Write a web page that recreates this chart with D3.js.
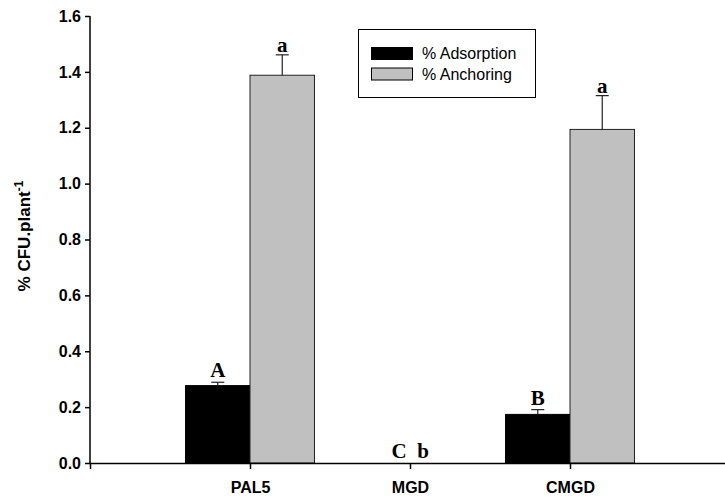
<!DOCTYPE html>
<html><head><meta charset="utf-8">
<script src="https://cdn.jsdelivr.net/npm/d3@7"></script>
<style>body{margin:0;background:#fff}svg{display:block}</style>
</head><body>
<script>
const categories = ["PAL5", "MGD", "CMGD"];
const seriesNames = ["% Adsorption", "% Anchoring"];
const adsorption = [0.277, 0, 0.174];
const adsorptionErr = [0.012, 0, 0.017];
const anchoring = [1.388, 0, 1.194];
const anchoringErr = [0.073, 0, 0.121];
const adsLetters = ["A", "C", "B"];
const ancLetters = ["a", "b", "a"];
const yTicks = [0, 0.2, 0.4, 0.6, 0.8, 1.0, 1.2, 1.4, 1.6];

const W = 725, H = 498;
const svg = d3.select("body").append("svg").attr("width", W).attr("height", H);
const x = d3.scaleLinear().domain([0, 4]).range([90, 730]);
const y = d3.scaleLinear().domain([0, 1.6]).range([463, 16]);
const barW = x(1) - x(0.597);
const colors = ["#000000", "#c0c0c0"];

const g = svg.append("g");
// bars
categories.forEach((c, i) => {
  const cx = x(i + 1);
  const vals = [adsorption[i], anchoring[i]];
  const errs = [adsorptionErr[i], anchoringErr[i]];
  vals.forEach((v, s) => {
    const x0 = s === 0 ? cx - barW : cx;
    if (v > 0) {
      g.append("rect").attr("x", x0).attr("y", y(v)).attr("width", barW).attr("height", y(0) - y(v))
        .attr("fill", colors[s]).attr("stroke", s === 0 ? "#000" : "#222").attr("stroke-width", 1);
      const mx = x0 + barW / 2;
      g.append("line").attr("x1", mx).attr("x2", mx).attr("y1", y(v)).attr("y2", y(v + errs[s]))
        .attr("stroke", "#222").attr("stroke-width", 1.2);
      g.append("line").attr("x1", mx - 6.5).attr("x2", mx + 6.5).attr("y1", y(v + errs[s])).attr("y2", y(v + errs[s]))
        .attr("stroke", "#222").attr("stroke-width", 1.2);
    }
  });
});
// letters
const lf = "'Liberation Serif','Times New Roman',serif";
const letter = (xx, yy, t) => g.append("text").attr("x", xx).attr("y", yy)
  .attr("text-anchor", "middle").attr("font-family", lf).attr("font-weight", "bold").attr("font-size", 21).text(t);
categories.forEach((c, i) => {
  const cx = x(i + 1);
  if (adsorption[i] > 0) {
    letter(cx - barW / 2, y(adsorption[i] + adsorptionErr[i]) - 5, adsLetters[i]);
    letter(cx + barW / 2, y(anchoring[i] + anchoringErr[i]) - 3, ancLetters[i]);
  } else {
    letter(cx - 11, y(0) - 5, adsLetters[i]);
    letter(cx + 13, y(0) - 5, ancLetters[i]);
  }
});

// axes
const af = "'Liberation Sans',Arial,sans-serif";
const yAxis = svg.append("g").attr("transform", "translate(90,0)")
  .call(d3.axisLeft(y).tickValues(yTicks).tickFormat(d3.format(".1f")).tickSize(5).tickPadding(4));
const xAxis = svg.append("g").attr("transform", "translate(0,463)")
  .call(d3.axisBottom(x).tickValues([1, 2, 3]).tickFormat((d) => categories[d - 1]).tickSize(6).tickPadding(13));
[yAxis, xAxis].forEach(a => {
  a.selectAll("path").attr("stroke", "#000").attr("stroke-width", 1.5);
  a.selectAll("line").attr("stroke", "#000").attr("stroke-width", 1.5);
  a.selectAll("text").attr("fill", "#000").attr("font-family", af).attr("font-weight", "bold").attr("font-size", 16);
});
yAxis.select("path").attr("d", "M-0,16V463");

// y title
const t = svg.append("text").attr("transform", "translate(30,236) rotate(-90)")
  .attr("text-anchor", "middle").attr("font-family", af).attr("font-weight", "bold").attr("font-size", 17);
t.append("tspan").text("% CFU.plant");
t.append("tspan").attr("dy", -7).attr("font-size", 12).text("-1");

// legend
const lg = svg.append("g");
lg.append("rect").attr("x", 358.5).attr("y", 29.5).attr("width", 177).attr("height", 68)
  .attr("fill", "#fff").attr("stroke", "#000").attr("stroke-width", 1);
seriesNames.forEach((n, s) => {
  const yy = 47.5 + s * 20.5;
  lg.append("rect").attr("x", 371.5).attr("y", yy).attr("width", 41).attr("height", 12)
    .attr("fill", colors[s]).attr("stroke", "#000").attr("stroke-width", 1);
  lg.append("text").attr("x", 422).attr("y", yy + 11.5).attr("font-family", af).attr("font-size", 16).text(n);
});
</script>
</body></html>
